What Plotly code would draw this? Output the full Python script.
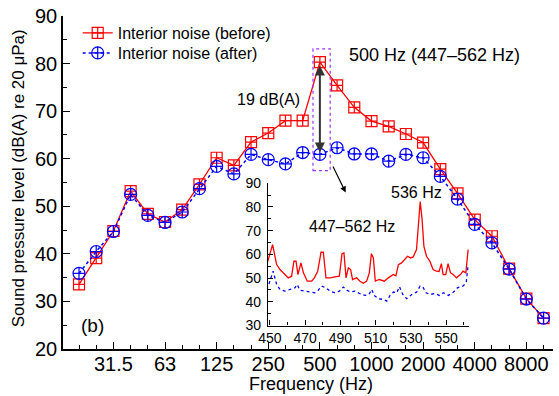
import plotly.graph_objects as go

# 1/3-octave band centre frequencies (Hz)
bands = ['20', '25', '31.5', '40', '50', '63', '80', '100', '125', '160', '200', '250', '315', '400',
         '500', '630', '800', '1000', '1250', '1600', '2000', '2500', '3150', '4000', '5000', '6300',
         '8000', '10000']
before = [33.6, 39.1, 44.8, 53.2, 48.4, 46.7, 49.3, 54.6, 60.2, 58.6, 63.5, 65.4, 68.0, 68.0,
          80.3, 75.4, 70.8, 67.9, 66.8, 65.2, 63.4, 57.8, 52.7, 47.2, 43.7, 36.9, 30.6, 26.5]
after = [35.9, 40.5, 44.7, 52.5, 48.1, 46.6, 48.8, 53.7, 58.4, 56.8, 60.9, 59.8, 58.9, 61.3,
         60.9, 62.3, 61.0, 61.0, 59.5, 60.9, 60.2, 56.3, 51.5, 46.2, 42.3, 36.8, 30.5, 26.5]
x_ticklabels = ['31.5', '63', '125', '250', '500', '1000', '2000', '4000', '8000']

# inset: narrow-band spectrum 447-562 Hz
spec_f_before = [446, 451.5, 453.8, 455.7, 458.5, 460.4, 462.3, 463.6, 464.8, 465.9, 467.6, 469,
                 471.2, 473.7, 475.2, 477.1, 479, 480.3, 481.8, 484.1, 486.9, 489.4, 490.9, 492,
                 493.2, 494.5, 495.8, 496.9, 499.2, 501.1, 503, 504.9, 506.4, 507.6, 508.7, 509.8,
                 512.1, 514.9, 517.2, 520, 521.5, 522.9, 524.7, 526.6, 528.1, 529.8, 531.3, 533.2,
                 534.4, 535.3, 536.3, 537.4, 538.9, 540.8, 542.6, 544.5, 546, 547.3, 548.3, 549.8,
                 551.1, 552.5, 554, 555.9, 558.1, 559.6, 561.2, 561.9, 562.5]
spec_before = [50.1, 64.1, 55.7, 53.6, 51.5, 50.1, 50.8, 57.1, 57.1, 51.5, 56.4, 52.2,
               48.7, 48.7, 50.1, 52.9, 60.9, 60.9, 50.1, 50.1, 50.5, 50.8, 60.3, 60.6,
               50.1, 54.3, 53.6, 49.4, 50.1, 48.7, 47.8, 48.7, 52.2, 60.3, 58.5, 48.7,
               49.4, 48.7, 50.1, 51.5, 51.0, 55.7, 56.4, 57.8, 59.2, 58.5, 58.9, 62.0,
               71.8, 82.3, 75.3, 63.4, 59.2, 57.1, 53.6, 52.9, 52.8, 56.1, 51.5, 51.5,
               56.1, 52.2, 51.5, 50.1, 51.5, 52.9, 52.2, 57.8, 62.0]
spec_f_after = [446.2, 449, 451.8, 453.8, 455.7, 458.5, 461.4, 464.2, 465.5, 467, 469.9, 472.7,
                475.5, 477.4, 479.3, 481.8, 484.1, 486.9, 489.4, 491.7, 493.6, 495.8, 498.3,
                501.1, 504, 506.2, 507.8, 509.1, 511.6, 514.4, 516.3, 518.2, 520.1, 522, 523.5,
                525.4, 527.6, 530.5, 533.3, 535.2, 536.7, 538.6, 540.9, 543.8, 546.2, 548.5,
                551.3, 554.2, 556.4, 559.5, 561.4, 562.5]
spec_after = [43.1, 46.6, 52.9, 47.3, 45.2, 44.5, 45.2, 45.9, 47.3, 44.9, 44.5, 44.1,
              43.8, 44.9, 46.6, 45.9, 44.5, 43.8, 44.5, 46.2, 44.9, 44.1, 44.5,
              43.4, 42.7, 43.1, 45.2, 42.7, 41.3, 41.0, 40.3, 42.7, 44.1, 43.8, 46.4,
              43.1, 41.3, 43.1, 44.1, 46.6, 46.4, 43.8, 43.1, 43.5, 42.7, 43.8,
              42.7, 44.1, 45.9, 46.6, 48.0, 55.7]

FONT = "Liberation Sans, Arial, sans-serif"
xi = list(range(len(bands)))

fig = go.Figure()
fig.add_trace(go.Scatter(
    x=xi, y=before, mode='lines+markers', name='Interior noise (before)', legend='legend',
    line=dict(color='#FF0000', width=1.3),
    marker=dict(symbol='square-cross-open', size=11, color='#FF0000', line=dict(width=1.2, color='#FF0000'))))
fig.add_trace(go.Scatter(
    x=xi, y=after, mode='lines+markers', name='Interior noise (after)', legend='legend2',
    line=dict(color='#0000FF', width=1.5, dash='dot'),
    marker=dict(symbol='circle-cross-open', size=12, color='#0000FF', line=dict(width=1.2, color='#0000FF'))))

fig.add_trace(go.Scatter(x=spec_f_before, y=spec_before, mode='lines', showlegend=False,
                         line=dict(color='#FF0000', width=1.3), xaxis='x2', yaxis='y2'))
fig.add_trace(go.Scatter(x=spec_f_after, y=spec_after, mode='lines', showlegend=False,
                         line=dict(color='#0000FF', width=1.3, dash='dot'), xaxis='x2', yaxis='y2'))

i500 = bands.index('500')

legend_common = dict(xanchor='left', yanchor='top', bgcolor='rgba(0,0,0,0)',
                     font=dict(size=16), itemwidth=30)

fig.update_layout(
    width=559, height=396,
    margin=dict(l=63, r=6, t=16, b=46.5, pad=0),
    paper_bgcolor='white', plot_bgcolor='rgba(0,0,0,0)',
    font=dict(family=FONT, size=18, color='black'),
    showlegend=True,
    legend=dict(x=0.03, y=1.0, **legend_common),
    legend2=dict(x=0.03, y=0.94, **legend_common),
    xaxis=dict(range=[-0.93, 27.55], domain=[0, 1], showgrid=False, zeroline=False,
               showline=True, linecolor='black', linewidth=1.5,
               tickmode='array', tickvals=[bands.index(t) for t in x_ticklabels], ticktext=x_ticklabels,
               ticks='inside', ticklen=7, tickwidth=1.2, tickcolor='black', ticklabelstandoff=-4,
               minor=dict(tickmode='array', tickvals=xi, ticks='inside', ticklen=4, tickwidth=1.2,
                          tickcolor='black'),
               tickfont=dict(size=20)),
    yaxis=dict(range=[20, 90], domain=[0, 1], showgrid=False, zeroline=False,
               showline=True, linecolor='black', linewidth=1.5,
               tickmode='linear', tick0=20, dtick=10,
               ticks='inside', ticklen=7, tickwidth=1.2, tickcolor='black',
               minor=dict(dtick=5, tick0=20, ticks='inside', ticklen=4, tickwidth=1.2, tickcolor='black'),
               tickfont=dict(size=20)),
    xaxis2=dict(range=[448.9, 563], domain=[0.4184, 0.8286], anchor='y2', showgrid=False, zeroline=False,
                showline=True, linecolor='black', linewidth=1.3,
                tickmode='linear', tick0=450, dtick=20,
                ticks='inside', ticklen=5, tickwidth=1, tickcolor='black', ticklabelstandoff=0,
                minor=dict(dtick=10, tick0=450, ticks='inside', ticklen=3, tickwidth=1, tickcolor='black'),
                tickfont=dict(size=14)),
    yaxis2=dict(range=[30, 90], domain=[0.0705, 0.4978], anchor='x2', showgrid=False, zeroline=False,
                showline=True, linecolor='black', linewidth=1.3,
                tickmode='linear', tick0=30, dtick=10,
                ticks='inside', ticklen=5, tickwidth=1, tickcolor='black', ticklabelstandoff=3,
                minor=dict(dtick=5, tick0=30, ticks='inside', ticklen=3, tickwidth=1, tickcolor='black'),
                tickfont=dict(size=14)),
)

# dashed box around the 500 Hz band
fig.add_shape(type='rect', xref='x', yref='y', x0=i500 - 0.4, x1=i500 + 0.6, y0=57.5, y1=83.1,
              line=dict(color='#9933FF', width=1.2, dash='dot'))

annotations = [
    # double-headed arrow: 19 dB(A) difference
    dict(x=i500, y=79.6, ax=i500, ay=61.0, xref='x', yref='y', axref='x', ayref='y',
         text='', showarrow=True, arrowhead=2, arrowsize=1, arrowwidth=2, arrowcolor='#333333',
         arrowside='end+start'),
    # pointer to inset
    dict(x=i500 + 1.5, y=52.9, ax=i500 + 0.72, ay=58.7, xref='x', yref='y', axref='x', ayref='y',
         text='', showarrow=True, arrowhead=2, arrowsize=1, arrowwidth=1.2, arrowcolor='black'),
    dict(x=20.65, y=81.8, xref='x', yref='y', text='500 Hz (447–562 Hz)', showarrow=False,
         font=dict(size=18)),
    dict(x=11.0, y=72.4, xref='x', yref='y', text='19 dB(A)', showarrow=False, font=dict(size=16)),
    dict(x=19.6, y=52.85, xref='x', yref='y', text='536 Hz', showarrow=False, font=dict(size=16)),
    dict(x=15.88, y=45.7, xref='x', yref='y', text='447–562 Hz', showarrow=False, font=dict(size=16)),
    dict(x=0.76, y=24.9, xref='x', yref='y', text='(b)', showarrow=False, font=dict(size=19)),
    # axis titles
    dict(x=(311 - 63) / 490, y=-(385 - 349.5) / 333.5, xref='paper', yref='paper',
         xanchor='center', yanchor='middle',
         text='Frequency (Hz)', showarrow=False, font=dict(size=18)),
    dict(x=-(63 - 18) / 490, y=(349.5 - 178.5) / 333.5, xref='paper', yref='paper',
         xanchor='center', yanchor='middle',
         text='Sound pressure level (dB(A) re 20 μPa)', textangle=-90, showarrow=False,
         font=dict(size=17)),
]
fig.update_layout(annotations=annotations)

fig.write_html("out.html")
